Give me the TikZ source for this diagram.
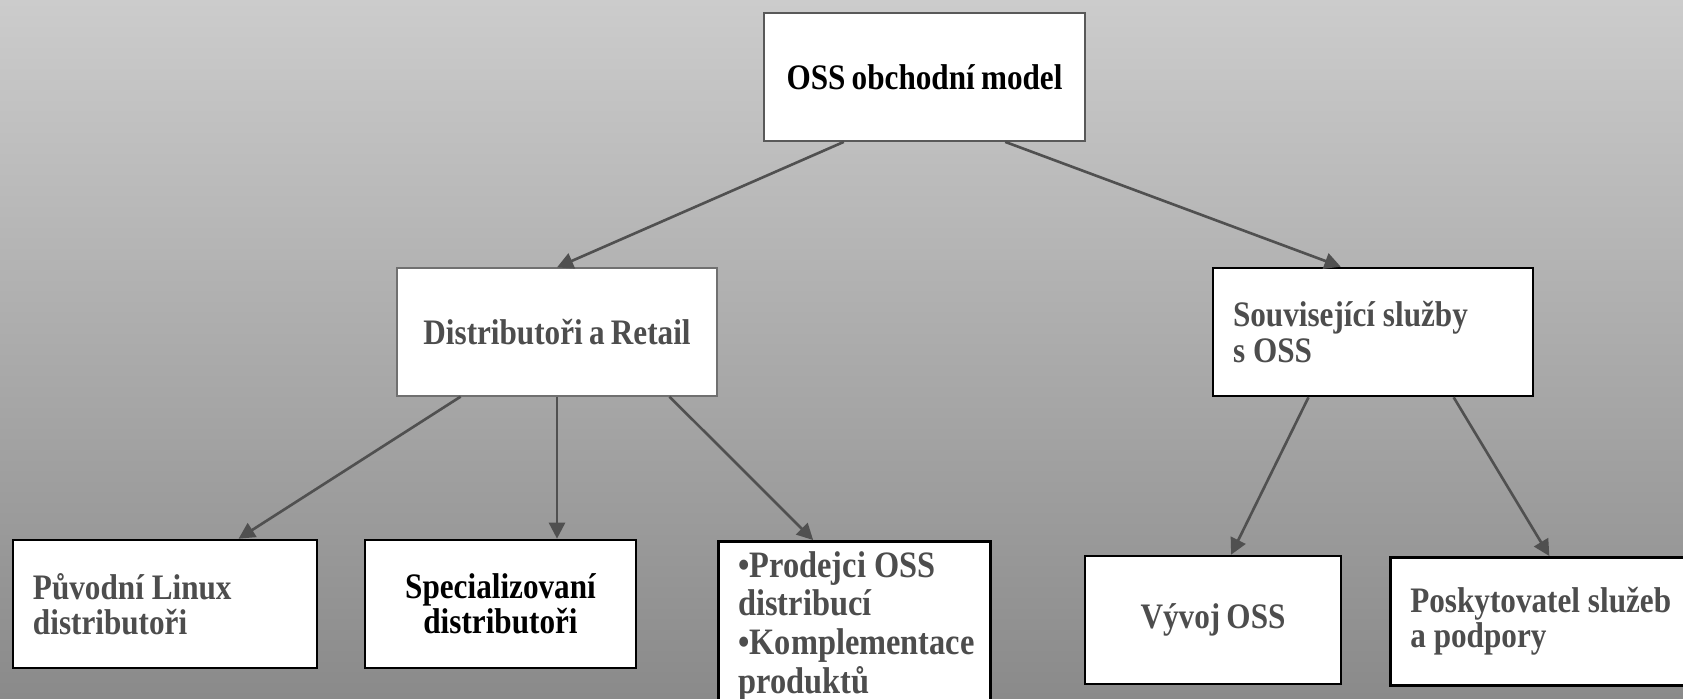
\documentclass[tikz,border=0pt]{standalone}
\usepackage{fontspec}
\setmainfont{Liberation Serif}[FakeStretch=0.87,WordSpace=0.8]
\usepackage{tikz}
\usetikzlibrary{arrows.meta,calc}
\definecolor{txtgray}{RGB}{77,77,77}
\definecolor{arrgray}{RGB}{80,80,80}
\definecolor{bgtop}{RGB}{204,204,204}
\definecolor{bgbot}{RGB}{138,138,138}

\begin{document}
\begin{tikzpicture}[
		box/.style={draw=black, line width=0.75pt, fill=white, inner xsep=0pt, inner ysep=0pt,
			minimum height=1.28cm, font=\bfseries\fontsize{10.2}{10}\selectfont, text=txtgray, align=center},
		lbox/.style={box, align=left, inner xsep=0.2cm, execute at begin node={\spaceskip=0.22em\relax}},
		arr/.style={draw=arrgray, line width=0.75pt, -{Triangle[length=4.6pt,width=4.6pt]}}
	]
	\useasboundingbox (0,0) rectangle (16.83,-6.98);
	\shade[top color=bgtop, bottom color=bgbot] (0,0) rectangle (16.83,-6.98);
	\clip (0,0) rectangle (16.83,-6.98);

	\node[box, draw={rgb,255:red,89;green,89;blue,89}, line width=0.5pt, text=black, minimum width=3.21cm]
		(oss) at (9.245,-0.77) {OSS obchodní model};
	\node[box, draw={rgb,255:red,112;green,112;blue,112}, line width=0.35pt, minimum width=3.20cm]
		(distr) at (5.57,-3.32) {Distributoři a Retail};
	\node[lbox, text width=2.80cm] (sluzby) at (13.73,-3.32) {Související služby\\s OSS};
	\node[lbox, text width=2.64cm] (puvodni) at (1.65,-6.04) {Původní Linux\\distributoři};
	\node[box, text=black, minimum width=2.71cm] (special) at (5.005,-6.04) {Specializovaní\\distributoři};
	\node[lbox, text width=2.32cm, minimum height=0pt, inner ysep=0.1cm, anchor=north west,
		font=\bfseries\fontsize{10.6}{11}\selectfont] (prodejci) at (7.17,-5.40)
		{•Prodejci OSS\\distribucí\\•Komplementace\\produktů\\[2pt]};
	\node[box, minimum width=2.56cm] (vyvoj) at (12.13,-6.20) {Vývoj OSS};
	\node[lbox, text width=3.0cm, anchor=north west] (poskyt) at (13.89,-5.56) {Poskytovatel služeb\\a podpory};

	\path[every edge/.style=arr]
	($(oss.south west)!.25!(oss.south east)$) edge (distr.north)
	($(oss.south west)!.75!(oss.south east)$) edge ($(sluzby.north west)!.4!(sluzby.north east)$)
	($(distr.south west)!.2!(distr.south east)$) edge ($(puvodni.north west)!.74!(puvodni.north east)$)
	(distr.south) edge (distr.south |- special.north)
	($(distr.south west)!.85!(distr.south east)$) edge ($(prodejci.north west)!.35!(prodejci.north east)$)
	($(sluzby.south west)!.3!(sluzby.south east)$) edge ($(vyvoj.north west)!.57!(vyvoj.north east)$)
	($(sluzby.south west)!.75!(sluzby.south east)$) edge ($(poskyt.north west)!.468!(poskyt.north east)$);
\end{tikzpicture}
\end{document}
